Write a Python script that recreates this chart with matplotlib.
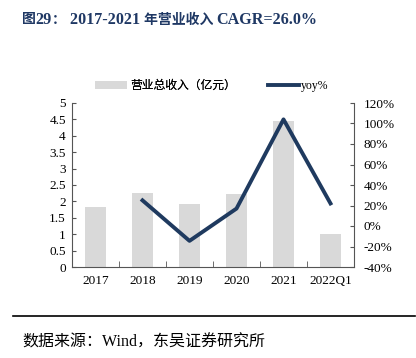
import matplotlib
matplotlib.use("Agg")
import matplotlib.pyplot as plt
from matplotlib.ticker import FixedLocator, FuncFormatter
from matplotlib.lines import Line2D
from matplotlib.patches import Patch

categories = ["2017", "2018", "2019", "2020", "2021", "2022Q1"]
revenue = [1.82, 2.25, 1.91, 2.22, 4.45, 1.0]
yoy_years = ["2018", "2019", "2020", "2021", "2022Q1"]
yoy = [25.0, -14.5, 17.0, 104.0, 22.0]

left_ticks = [0, 0.5, 1, 1.5, 2, 2.5, 3, 3.5, 4, 4.5, 5]
right_ticks = [-40, -20, 0, 20, 40, 60, 80, 100, 120]

title_parts = ["图", "29", "： ", "2017-2021 ", "年营业收入 ", "CAGR=26.0%"]
source = "数据来源：Wind，东吴证券研究所"
bar_label = "营业总收入（亿元）"
line_label = "yoy%"

fam = ["Liberation Serif", "Noto Sans CJK SC"]
plt.rcParams["font.family"] = fam

navy = "#1F3A5F"
grey = "#D9D9D9"
axc = "#555555"
W, H = 416, 358

fig = plt.figure(figsize=(W/100, H/100), dpi=100)
ax = fig.add_axes([72/W, 1-267/H, 282/W, 164/H])
x = list(range(len(categories)))
ax.bar(x, revenue, width=0.45, color=grey, zorder=1)
ax.set_xlim(-0.5, len(categories)-0.5)
ax.set_ylim(0, 5)
ax.yaxis.set_major_locator(FixedLocator(left_ticks))
ax.yaxis.set_major_formatter(FuncFormatter(lambda v, p: f"{v:g}"))
ax.set_xticks(x)
ax.set_xticklabels(categories)
ax.set_xticks([i + 0.5 for i in x[:-1]], minor=True)
ax.tick_params(axis="x", which="major", length=0, pad=6, labelsize=9.5)
ax.tick_params(axis="x", which="minor", length=4, direction="in", color=axc)
ax.tick_params(axis="y", length=3, direction="in", labelsize=9.5, pad=4.5, color=axc)
for s in ["top", "right"]:
    ax.spines[s].set_visible(False)
for s in ["left", "bottom"]:
    ax.spines[s].set_color(axc)
    ax.spines[s].set_linewidth(0.8)

ax2 = ax.twinx()
xi = [categories.index(c) for c in yoy_years]
ax2.plot(xi, yoy, color=navy, lw=2.8, solid_joinstyle="round", zorder=3)
ax2.set_ylim(-40, 120)
ax2.yaxis.set_major_locator(FixedLocator(right_ticks))
ax2.yaxis.set_major_formatter(FuncFormatter(lambda v, p: f"{v:.0f}%"))
ax2.tick_params(axis="y", length=3, direction="in", labelsize=9.5, pad=7, color=axc)
for s in ["top", "left", "bottom"]:
    ax2.spines[s].set_visible(False)
ax2.spines["right"].set_color(axc)
ax2.spines["right"].set_linewidth(0.8)

lprop = {"family": fam, "size": 8.5}
leg1 = fig.legend([Patch(facecolor=grey, edgecolor="none")], [bar_label],
                  loc="center left", bbox_to_anchor=(95/W, 1-86/H), frameon=False,
                  prop=lprop, handlelength=2.7, handleheight=0.6, handletextpad=0.3,
                  borderpad=0, borderaxespad=0)
leg2 = fig.legend([Line2D([0], [0], color=navy, lw=2.8)], [line_label],
                  loc="center left", bbox_to_anchor=(268/W, 1-86/H), frameon=False,
                  prop=lprop, handlelength=2.6, handletextpad=0.2,
                  borderpad=0, borderaxespad=0)
fig.add_artist(leg1)

# title in pieces: CJK smaller, Latin larger (as in the reference)
renderer = fig.canvas.get_renderer()
xpos = 22
for i, part in enumerate(title_parts):
    is_cjk = i in (0, 2, 4)
    t = fig.text(xpos/W, 1-20/H, part, fontsize=10 if is_cjk else 11.6,
                 fontweight="bold", color="#1F3864", va="center", ha="left")
    xpos += t.get_window_extent(renderer).width

fig.add_artist(Line2D([13/W, 415/W], [1-316/H, 1-316/H], color="black", lw=1.2))
fig.text(22/W, 1-343/H, source, fontsize=11.5, color="black", va="center", ha="left")

fig.savefig("out.png", dpi=100)
